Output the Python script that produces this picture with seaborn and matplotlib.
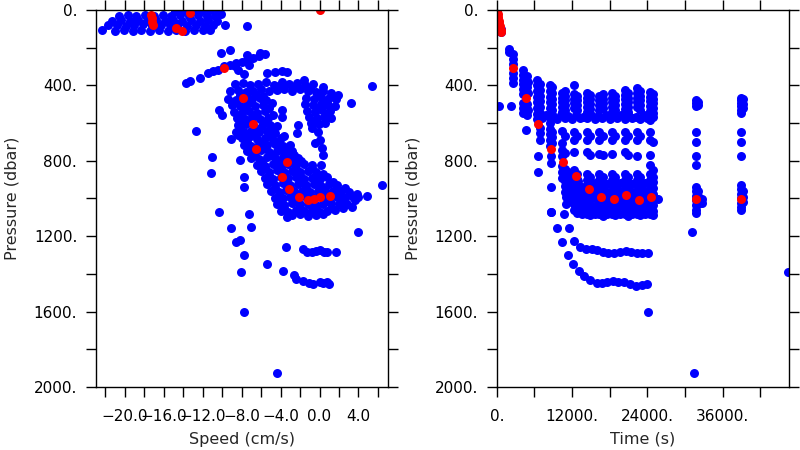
import matplotlib
matplotlib.use("Agg")
import matplotlib.pyplot as plt
import seaborn as sns
import pandas as pd

# ---- left panel: speed (cm/s) vs pressure (dbar) ----
surface = [(-14.8, 4), (-13.9, 8), (-13.0, 3), (-12.1, 6), (-11.2, 2), (-10.4, 8),
           (-20.6, 32), (-19.7, 28), (-18.8, 34), (-17.9, 27), (-17.0, 31), (-16.1, 26), (-15.2, 33),
           (-14.3, 29), (-13.4, 35), (-12.5, 27), (-11.6, 30), (-10.7, 34), (-10.1, 22),
           (-21.3, 58), (-20.4, 54), (-19.5, 60), (-18.6, 52), (-17.7, 57), (-16.8, 55), (-15.9, 61),
           (-15.0, 53), (-14.1, 58), (-13.2, 55), (-12.3, 60), (-11.4, 52), (-10.5, 57),
           (-21.7, 82), (-20.8, 78), (-19.9, 85), (-19.0, 80), (-18.1, 77), (-17.2, 84), (-16.3, 79),
           (-15.4, 82), (-14.5, 76), (-13.6, 85), (-12.7, 80), (-11.8, 83), (-10.9, 78), (-9.7, 80), (-7.4, 88),
           (-22.3, 106), (-21.0, 110), (-20.1, 104), (-19.2, 112), (-18.3, 106), (-17.4, 110), (-16.5, 104),
           (-15.6, 111), (-14.7, 106), (-13.8, 110), (-12.9, 104), (-12.0, 109), (-11.2, 105)]

streak = [(-13.7, 386), (-13.3, 378), (-12.3, 360), (-11.4, 335), (-10.9, 325), (-10.4, 318), (-9.8, 300),
          (-9.2, 292), (-8.6, 283), (-8.0, 275), (-7.4, 265), (-6.8, 255), (-6.2, 246), (-5.6, 236),
          (-10.1, 226), (-9.2, 215), (-7.4, 238), (-6.1, 230), (-8.4, 318), (-7.8, 340), (-7.2, 292), (-8.7, 300)]

upper_arc = [(-5.4, 336), (-4.6, 330), (-3.9, 322), (-3.3, 330), (-1.6, 371), (0.4, 407),
             (-8.7, 395), (-7.9, 388), (-7.1, 398), (-6.3, 392), (-5.5, 385), (-4.7, 396), (-3.9, 380),
             (-3.1, 392), (-2.3, 388), (-1.5, 398), (-0.7, 392),
             (-9.2, 430), (-8.4, 424), (-7.6, 436), (-6.8, 428), (-6.0, 420), (-5.2, 432), (-4.4, 426),
             (-3.6, 418), (-2.8, 430), (-2.0, 422), (-1.2, 428), (-0.4, 434), (0.4, 430), (1.2, 440),
             (1.9, 452), (3.2, 495), (5.4, 403)]

left_lobe = [(-9.4, 470), (-8.6, 476), (-7.8, 466), (-6.9, 472), (-6.1, 468), (-5.5, 478),
             (-9.0, 505), (-8.2, 510), (-7.4, 500), (-6.6, 508), (-5.8, 502), (-4.9, 495),
             (-8.8, 540), (-8.0, 545), (-7.2, 535), (-6.4, 548), (-5.6, 538), (-3.9, 530), (-10.3, 530),
             (-8.5, 575), (-7.7, 580), (-6.9, 570), (-6.1, 578), (-5.3, 572), (-3.9, 566), (-10.0, 560),
             (-8.4, 612), (-7.6, 605), (-5.9, 615), (-5.1, 608), (-4.4, 618), (-2.2, 610), (-12.7, 642)]

right_lobe = [(-1.4, 465), (-0.6, 470), (0.2, 462), (1.0, 468), (1.7, 475),
              (-1.5, 500), (-0.7, 506), (0.1, 498), (0.9, 504), (1.6, 510),
              (-1.3, 535), (-0.5, 540), (0.3, 532), (1.1, 538),
              (-1.1, 570), (-0.3, 575), (0.5, 566), (1.2, 572),
              (-0.9, 600), (-0.1, 605), (0.6, 598),
              (-0.8, 625), (-0.2, 650), (-2.3, 654), (0.0, 690), (-0.5, 705), (0.3, 735), (0.4, 770)]

diag_band = [(-8.6, 645), (-7.8, 650), (-7.0, 640), (-6.2, 648), (-5.4, 642), (-4.6, 652),
             (-9.1, 686), (-8.0, 680), (-7.2, 675), (-6.4, 684), (-5.6, 678), (-4.8, 688), (-4.0, 680),
             (-7.8, 715), (-7.0, 720), (-6.2, 712), (-5.4, 718), (-4.6, 710), (-3.8, 722), (-3.0, 715),
             (-8.2, 796), (-7.4, 750), (-6.8, 756), (-6.0, 745), (-5.2, 752), (-4.4, 748), (-3.6, 755), (-2.8, 750),
             (-11.0, 778), (-7.0, 785), (-6.2, 790), (-5.4, 780), (-4.6, 788), (-3.8, 782), (-3.0, 790), (-2.2, 785),
             (-6.4, 820), (-5.6, 826), (-4.8, 815), (-4.0, 822), (-3.2, 818), (-2.4, 825), (-1.6, 818),
             (-0.8, 822), (0.1, 822),
             (-11.1, 863), (-7.8, 884), (-6.0, 855), (-5.2, 860), (-4.4, 850), (-3.6, 858), (-2.8, 852),
             (-2.0, 860), (-1.2, 855), (-0.4, 862)]

lower_blob = [(-5.6, 890), (-4.8, 896), (-4.0, 886), (-3.2, 894), (-2.4, 888), (-1.6, 896), (-0.8, 890),
              (0.0, 895), (0.8, 888),
              (-7.8, 937), (-5.4, 925), (-4.6, 930), (-3.8, 920), (-3.0, 928), (-2.2, 922), (-1.4, 930),
              (-0.6, 925), (0.2, 932), (1.0, 924), (1.8, 930), (6.4, 928),
              (-5.0, 960), (-4.2, 965), (-3.4, 955), (-2.6, 962), (-1.8, 958), (-1.0, 966), (-0.2, 960),
              (0.6, 955), (1.4, 962), (2.2, 958), (3.0, 965),
              (-4.6, 995), (-3.8, 1000), (-3.0, 990), (-2.2, 998), (-1.4, 992), (-0.6, 1000), (0.2, 994),
              (1.0, 1000), (1.8, 992), (2.6, 998), (3.4, 990), (4.0, 994), (4.9, 987),
              (-4.4, 1030), (-3.6, 1035), (-2.8, 1025), (-2.0, 1032), (-1.2, 1028), (-0.4, 1036), (0.4, 1030),
              (1.2, 1025), (2.0, 1032), (2.8, 1028), (3.3, 1043),
              (-4.0, 1065), (-3.2, 1070), (-2.4, 1060), (-1.6, 1068), (-0.8, 1062), (0.0, 1070), (0.8, 1065),
              (1.6, 1060),
              (-2.8, 1090), (-2.0, 1085), (-1.2, 1092), (-0.4, 1088), (0.4, 1085)]

core_fill = [(-8.2, 450), (-7.4, 455), (-6.5, 450), (-5.8, 455), (-4.2, 405), (-2.6, 408), (-1.0, 412),
             (0.0, 445), (0.8, 485), (-0.3, 520), (0.7, 550), (-0.6, 588),
             (-8.9, 490), (-7.0, 488), (-5.2, 520), (-7.6, 525), (-8.2, 560), (-6.6, 560), (-4.8, 560),
             (-8.0, 592), (-6.9, 595), (-5.6, 592),
             (-8.2, 628), (-6.6, 625), (-5.0, 630), (-8.4, 665), (-6.8, 660), (-5.2, 665), (-3.6, 668),
             (-7.4, 698), (-5.8, 700), (-4.2, 700), (-7.2, 735), (-5.6, 732), (-4.0, 738), (-3.2, 735),
             (-6.6, 770), (-5.0, 768), (-3.4, 772), (-2.6, 768), (-5.9, 805), (-4.3, 802), (-2.7, 806),
             (-1.9, 800), (-5.6, 840), (-4.0, 838), (-2.4, 842), (-0.8, 840),
             (-5.2, 875), (-3.6, 872), (-2.0, 876), (-0.4, 878), (0.4, 870),
             (-5.0, 910), (-3.4, 908), (-1.8, 912), (-0.2, 910), (1.4, 912),
             (-4.6, 945), (-3.0, 942), (-1.4, 946), (0.2, 944), (1.8, 948), (2.6, 942),
             (-4.2, 980), (-2.6, 978), (-1.0, 982), (0.6, 978), (2.2, 980), (3.8, 975),
             (-4.0, 1015), (-2.4, 1012), (-0.8, 1016), (0.8, 1012), (2.4, 1010), (3.6, 1010),
             (-3.6, 1050), (-2.0, 1048), (-0.4, 1052), (1.2, 1048), (2.4, 1050)]

deep_left = [(-10.3, 1070), (-7.25, 1080), (-3.3, 1100), (-9.1, 1155), (-7.0, 1150), (-8.6, 1229),
             (-8.2, 1222), (-7.8, 1300), (-8.1, 1388), (-7.8, 1600), (-5.4, 1349), (-3.8, 1385),
             (-3.4, 1256), (-2.6, 1406), (-2.4, 1427), (4.0, 1176), (-4.4, 1927),
             (-1.7, 1270), (-1.3, 1285), (-0.75, 1285), (-0.34, 1280), (0.0, 1275), (0.44, 1285),
             (0.8, 1283), (1.7, 1285),
             (-1.7, 1440), (-1.1, 1450), (-0.65, 1455), (0.0, 1445), (0.4, 1450), (0.8, 1445), (0.95, 1452)]

left_red = [(0.0, 0), (-13.3, 14), (-17.3, 27), (-17.2, 45), (-17.2, 62), (-17.1, 80), (-14.7, 97),
            (-14.1, 111), (-9.8, 309), (-7.87, 469), (-6.84, 605), (-6.56, 739), (-3.3, 805), (-3.9, 884),
            (-3.15, 948), (-2.1, 992), (-1.2, 1008), (-0.6, 1004), (0.0, 994), (1.03, 985)]

# ---- right panel: time (s) vs pressure (dbar) ----
early = [(320, 509), (2230, 509), (600, 100), (650, 115), (1900, 205), (1950, 225),
         (2550, 235), (2600, 260), (2650, 285), (2600, 335), (2650, 360), (2600, 390),
         (4250, 320), (4200, 345), (4250, 370), (4200, 395), (4250, 420), (4200, 445), (4250, 495),
         (4200, 520), (4250, 545), (4850, 350), (4900, 380), (4850, 410), (4900, 440), (4850, 500),
         (4900, 530), (4850, 560), (4660, 639),
         (6400, 370), (6420, 400), (6400, 430), (6420, 460), (6400, 490), (6420, 520), (6400, 550),
         (6420, 580), (6880, 395), (6860, 425), (6880, 455), (6860, 485), (6880, 515), (6860, 545),
         (6880, 575), (6860, 625), (6880, 655), (6860, 690), (6630, 777), (6630, 862),
         (8400, 400), (8420, 430), (8400, 460), (8420, 490), (8400, 520), (8420, 555), (8400, 600),
         (8420, 630), (8400, 660), (8420, 690), (8400, 720), (8800, 410), (8780, 440), (8800, 470),
         (8780, 500), (8800, 530), (8780, 570), (8800, 645), (8780, 675), (8800, 705), (8640, 777),
         (8640, 812), (8640, 937), (8640, 1070),
         (11300, 860), (11300, 900), (11300, 940), (11700, 880), (11700, 920), (11700, 960),
         (11700, 1000), (12000, 900), (12000, 940), (12000, 980), (12000, 1020), (13500, 1043)]

sub_times = [10350, 10850, 12320, 12820, 14350, 14850, 16350, 16850,
             18350, 18850, 20350, 20850, 22350, 22850, 24350, 24850]
sub_press = [
    [440, 465, 490, 515, 540, 640, 706, 742, 777, 830, 860, 890],
    [430, 455, 480, 505, 530, 671, 760, 845, 875, 905, 935, 965],
    [398, 445, 470, 495, 520, 645, 690, 752, 850, 880, 910, 940, 970, 1000, 1030, 1060],
    [455, 480, 505, 530, 671, 868, 895, 925, 955, 985, 1015, 1045, 1075],
    [440, 465, 490, 515, 540, 645, 690, 755, 868, 900, 930, 960, 990, 1020, 1050, 1080],
    [450, 475, 500, 525, 671, 770, 885, 915, 945, 975, 1005, 1035, 1065, 1090],
    [455, 480, 505, 530, 645, 690, 765, 868, 900, 930, 960, 990, 1020, 1050, 1080],
    [445, 470, 495, 520, 671, 770, 885, 915, 945, 975, 1005, 1035, 1065, 1095],
    [440, 465, 490, 515, 540, 645, 690, 765, 868, 900, 930, 960, 990, 1020, 1050, 1080],
    [455, 480, 505, 530, 671, 885, 915, 945, 975, 1005, 1035, 1065, 1090],
    [425, 450, 475, 500, 525, 645, 690, 752, 868, 900, 930, 960, 990, 1020, 1050, 1080],
    [440, 465, 490, 515, 540, 671, 770, 885, 915, 945, 975, 1005, 1035, 1065, 1095],
    [415, 440, 465, 490, 515, 645, 690, 775, 868, 900, 930, 960, 990, 1020, 1050, 1080],
    [430, 455, 480, 505, 530, 671, 885, 915, 945, 975, 1005, 1035, 1065, 1090],
    [435, 460, 485, 510, 535, 560, 585, 645, 690, 770, 822, 868, 900, 930, 960, 990, 1020, 1050, 1080],
    [445, 470, 495, 520, 545, 570, 700, 850, 884, 915, 945, 975, 1005, 1035, 1065, 1090],
]

mid_line_t = [6600, 7200, 7800, 8400, 9000, 9600, 10200, 10800, 11400, 12000, 12600, 13200, 13800,
              14400, 15000, 15600, 16200, 16800, 17400, 18000, 18600, 19200, 19800, 20400, 21000,
              21600, 22200, 22800, 23400, 24000, 24600]
mid_line_p = [560, 575, 558, 572, 562, 578, 560, 574, 565, 578, 560, 572, 566, 575, 560, 578, 563,
              572, 560, 576, 565, 572, 560, 578, 562, 574, 566, 578, 560, 575, 570]

gap_fill = [(13600, 940), (13600, 975), (13600, 1010), (13600, 1045), (13600, 1080),
            (15600, 920), (15600, 960), (15600, 1000), (15600, 1040), (15600, 1080),
            (17600, 925), (17600, 965), (17600, 1005), (17600, 1045), (17600, 1080),
            (19600, 920), (19600, 960), (19600, 1000), (19600, 1040), (19600, 1080),
            (21600, 925), (21600, 965), (21600, 1005), (21600, 1045), (21600, 1080),
            (23600, 920), (23600, 960), (23600, 1000), (23600, 1040), (23600, 1080),
            (11000, 990), (11000, 1030), (13000, 905), (25730, 1004)]

curve_upper = [(11560, 1155), (12310, 1224), (13260, 1256), (14220, 1268), (15120, 1270), (16020, 1273),
               (16870, 1282), (17770, 1291), (18670, 1291), (19630, 1282), (20530, 1279), (21380, 1286),
               (22290, 1291), (23180, 1291), (24140, 1288)]
curve_lower = [(8640, 1070), (9550, 1155), (10450, 1229), (10710, 1084), (11400, 1300), (12200, 1349),
               (13100, 1383), (13950, 1410), (14850, 1432), (15920, 1446), (16720, 1446), (17610, 1441),
               (18570, 1437), (19360, 1441), (20270, 1441), (21220, 1455), (22130, 1464), (23080, 1459),
               (23980, 1455)]

late = [(31700, 480), (31700, 495), (31700, 510), (31700, 645), (31700, 700), (31700, 775), (31700, 822),
        (31700, 937), (31700, 960), (31700, 985), (31700, 1010), (31700, 1035), (31700, 1060), (31700, 1078),
        (32000, 490), (32000, 505), (32000, 960), (32000, 985), (32000, 1030), (32700, 1003), (32700, 1025),
        (38850, 465), (38850, 480), (38850, 495), (38850, 510), (38850, 530), (38850, 545), (38850, 645),
        (38850, 700), (38850, 775), (38850, 928), (38850, 950), (38850, 975), (38850, 1000), (38850, 1025),
        (38850, 1045), (38850, 1060), (39150, 475), (39150, 500), (39150, 520), (39150, 960),
        (39150, 990), (39150, 1020),
        (31040, 1176), (31400, 1927), (24130, 1600), (46400, 1388)]

right_red = [(0, 0), (60, 12), (120, 24), (180, 36), (250, 48), (320, 60), (390, 72), (460, 84),
             (530, 96), (600, 106), (660, 115),
             (2640, 309), (4660, 469), (6630, 605), (8600, 739), (10600, 805), (12570, 881),
             (14640, 948), (16600, 992), (18630, 1003), (20640, 981), (22600, 1008), (24560, 990),
             (31780, 1003), (38850, 1004)]

# ---- tables ----
left_blue = pd.DataFrame(surface + streak + upper_arc + left_lobe + right_lobe + diag_band
                         + lower_blob + core_fill + deep_left, columns=["speed", "pressure"])
left_r = pd.DataFrame(left_red, columns=["speed", "pressure"])

cols = [(t, p) for t, plist in zip(sub_times, sub_press) for p in plist]
right_blue = pd.DataFrame(early + cols + list(zip(mid_line_t, mid_line_p)) + gap_fill
                          + curve_upper + curve_lower + late, columns=["time", "pressure"])
right_r = pd.DataFrame(right_red, columns=["time", "pressure"])

sns.set_theme(style="ticks")
plt.rcParams["font.family"] = ["DejaVu Sans"]

fig = plt.figure(figsize=(8, 4.5), dpi=100)
ax1 = fig.add_axes([0.12, 0.14, 0.365, 0.838])
ax2 = fig.add_axes([0.621, 0.14, 0.365, 0.838])

dot = 42
sns.scatterplot(data=left_blue, x="speed", y="pressure", color="#0000ff", s=dot, linewidth=0, ax=ax1)
sns.scatterplot(data=left_r, x="speed", y="pressure", color="#ff0000", s=dot, linewidth=0, ax=ax1)
sns.scatterplot(data=right_blue, x="time", y="pressure", color="#0000ff", s=dot, linewidth=0, ax=ax2)
sns.scatterplot(data=right_r, x="time", y="pressure", color="#ff0000", s=dot, linewidth=0, ax=ax2)

ax1.set_xlim(-22.95, 7.03)
ax2.set_xlim(0, 46520)

spd_ticks = list(range(-22, 7, 2))
ax1.set_xticks(spd_ticks)
ax1.set_xticklabels([(f"{v:.1f}".replace("-", "\u2212") if v % 4 == 0 else "") for v in spd_ticks])
time_ticks = list(range(0, 42001, 6000))
ax2.set_xticks(time_ticks)
ax2.set_xticklabels([(f"{v}." if v % 12000 == 0 else "") for v in time_ticks])

p_ticks = list(range(0, 2001, 200))
for ax in (ax1, ax2):
    ax.set_ylim(2000, 0)
    ax.set_yticks(p_ticks)
    ax.set_yticklabels([(f"{v}." if v % 400 == 0 else "") for v in p_ticks])
    ax.tick_params(direction="out", length=7.5, width=1, top=True, right=True,
                   labelsize=11, colors="black", pad=6)
    ax.tick_params(axis="x", pad=8)
    for sp in ax.spines.values():
        sp.set_visible(True)
        sp.set_color("black")
        sp.set_linewidth(1)
    ax.set_ylabel("Pressure (dbar)", fontsize=11.5, labelpad=10)

ax1.set_xlabel("Speed (cm/s)", fontsize=11.5, labelpad=6)
ax2.set_xlabel("Time (s)", fontsize=11.5, labelpad=6)

fig.savefig("out.png", dpi=100)
